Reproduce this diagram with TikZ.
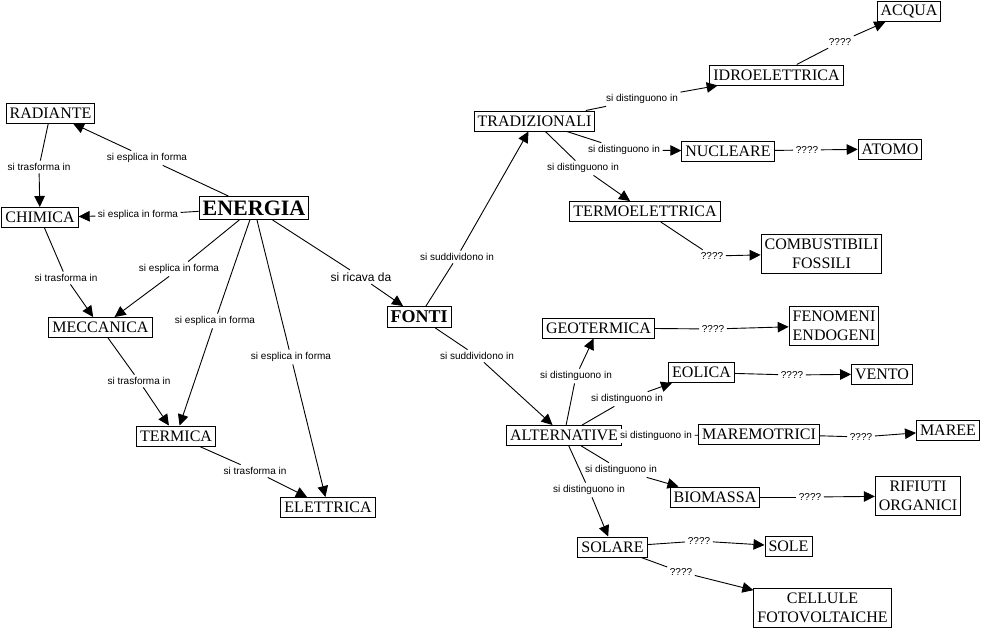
\documentclass[tikz,border=0pt]{standalone}
\usepackage{fontspec}
\setmainfont{Liberation Serif}
\setsansfont{Liberation Sans}
\usetikzlibrary{arrows.meta}
\begin{document}
\begin{tikzpicture}[x=1pt,y=-1pt,
 concept/.style={draw,line width=1pt,fill=white,inner xsep=3.5pt,inner ysep=1pt,minimum height=20pt,align=center,font=\fontsize{16}{17}\selectfont},
 twoline/.style={concept,font=\fontsize{16}{19}\selectfont,minimum height=39pt},
 bigconcept/.style={concept,font=\bfseries\fontsize{22}{24}\selectfont,minimum height=23pt},
 lbl/.style={fill=white,inner sep=2.5pt,font=\sffamily\fontsize{10}{11}\selectfont},
 link/.style={line width=0.9pt},
 linkarr/.style={line width=0.9pt,-{Triangle[length=11pt,width=10.5pt]}}]
\useasboundingbox (0,0) rectangle (982,630);
% concepts
\node[concept] (rad) at (50.5,113) {RADIANTE};
\node[concept] (chi) at (40,217.5) {CHIMICA};
\node[bigconcept] (ene) at (254,208) {ENERGIA};
\node[concept] (mec) at (100.5,327.5) {MECCANICA};
\node[concept] (ter) at (176,436) {TERMICA};
\node[concept] (ele) at (328,507.5) {ELETTRICA};
\node[concept,font=\bfseries\fontsize{18}{20}\selectfont,minimum height=21pt] (fon) at (419,317) {FONTI};
\node[concept] (tra) at (534.5,121) {TRADIZIONALI};
\node[concept] (tel) at (645,211.5) {TERMOELETTRICA};
\node[concept] (idr) at (776.5,75) {IDROELETTRICA};
\node[concept] (acq) at (909,11.5) {ACQUA};
\node[concept] (nuc) at (728,151) {NUCLEARE};
\node[concept] (ato) at (890,149) {ATOMO};
\node[twoline] (com) at (821.5,253.5) {COMBUSTIBILI\\FOSSILI};
\node[concept] (geo) at (598.5,328) {GEOTERMICA};
\node[twoline] (fen) at (834,325.5) {FENOMENI\\ENDOGENI};
\node[concept] (eol) at (701.5,372.5) {EOLICA};
\node[concept] (ven) at (882,374) {VENTO};
\node[concept] (alt) at (564,435.5) {ALTERNATIVE};
\node[concept] (mar) at (759,434) {MAREMOTRICI};
\node[concept] (mae) at (948,430.5) {MAREE};
\node[concept] (bio) at (715,497) {BIOMASSA};
\node[twoline] (rif) at (918,496) {RIFIUTI\\ORGANICI};
\node[concept] (sol) at (612.5,547) {SOLARE};
\node[concept] (sle) at (788.5,546.5) {SOLE};
\node[twoline] (cel) at (822.5,607.5) {CELLULE\\FOTOVOLTAICHE};
% linking phrases
\node[lbl] (l1) at (147,158) {si esplica in forma};
\node[lbl] (l2) at (39,167) {si trasforma in};
\node[lbl] (l3) at (138,215) {si esplica in forma};
\node[lbl] (l4) at (66,278) {si trasforma in};
\node[lbl] (l5) at (179,269) {si esplica in forma};
\node[lbl] (l6) at (215,321) {si esplica in forma};
\node[lbl] (l7) at (291,357) {si esplica in forma};
\node[lbl] (l8) at (139,381) {si trasforma in};
\node[lbl] (l9) at (255,471) {si trasforma in};
\node[lbl,font=\sffamily\fontsize{12}{13}\selectfont] (l10) at (361,277) {si ricava da};
\node[lbl] (l11) at (457,257) {si suddividono in};
\node[lbl] (l12) at (477,356) {si suddividono in};
\node[lbl] (l13) at (642,99) {si distinguono in};
\node[lbl] (l14) at (624,150) {si distinguono in};
\node[lbl] (l15) at (583,168) {si distinguono in};
\node[lbl] (q1) at (840,42) {????};
\node[lbl] (q2) at (807,150) {????};
\node[lbl] (q3) at (712,256) {????};
\node[lbl] (q4) at (713,329) {????};
\node[lbl] (l16) at (576,376) {si distinguono in};
\node[lbl] (l17) at (627,399) {si distinguono in};
\node[lbl] (q5) at (792,375) {????};
\node[lbl] (l18) at (656,436) {si distinguono in};
\node[lbl] (q6) at (861,437) {????};
\node[lbl] (l19) at (621,470) {si distinguono in};
\node[lbl] (l20) at (589,490) {si distinguono in};
\node[lbl] (q7) at (810,497) {????};
\node[lbl] (q8) at (699,541) {????};
\node[lbl] (q9) at (681,572) {????};
% connectors
\draw[link] (ene) -- (l1); \draw[linkarr] (l1) -- (rad);
\draw[link] (rad) -- (l2); \draw[linkarr] (l2) -- (chi);
\draw[link] (ene) -- (l3); \draw[linkarr] (l3) -- (chi);
\draw[link] (chi) -- (l4); \draw[linkarr] (l4) -- (mec);
\draw[link] (ene) -- (l5); \draw[linkarr] (l5) -- (mec);
\draw[link] (ene) -- (l6); \draw[linkarr] (l6) -- (ter);
\draw[link] (ene) -- (l7); \draw[linkarr] (l7) -- (ele);
\draw[link] (mec) -- (l8); \draw[linkarr] (l8) -- (ter);
\draw[link] (ter) -- (l9); \draw[linkarr] (l9) -- (ele);
\draw[link] (ene) -- (l10); \draw[linkarr] (l10) -- (fon);
\draw[link] (fon) -- (l11); \draw[linkarr] (l11) -- (tra);
\draw[link] (fon) -- (l12); \draw[linkarr] (l12) -- (alt);
\draw[link] (tra) -- (l13); \draw[linkarr] (l13) -- (idr);
\draw[link] (tra) -- (l14); \draw[linkarr] (l14) -- (nuc);
\draw[link] (tra) -- (l15); \draw[linkarr] (l15) -- (tel);
\draw[link] (idr) -- (q1); \draw[linkarr] (q1) -- (acq);
\draw[link] (nuc) -- (q2); \draw[linkarr] (q2) -- (ato);
\draw[link] (tel) -- (q3); \draw[linkarr] (q3) -- (com);
\draw[link] (geo) -- (q4); \draw[linkarr] (q4) -- (fen);
\draw[link] (alt) -- (l16); \draw[linkarr] (l16) -- (geo);
\draw[link] (alt) -- (l17); \draw[linkarr] (l17) -- (eol);
\draw[link] (eol) -- (q5); \draw[linkarr] (q5) -- (ven);
\draw[link] (l18) -- (mar);
\draw[link] (mar) -- (q6); \draw[linkarr] (q6) -- (mae);
\draw[link] (alt) -- (l19); \draw[linkarr] (l19) -- (bio);
\draw[link] (alt) -- (l20); \draw[linkarr] (l20) -- (sol);
\draw[link] (bio) -- (q7); \draw[linkarr] (q7) -- (rif);
\draw[link] (sol) -- (q8); \draw[linkarr] (q8) -- (sle);
\draw[link] (sol) -- (q9); \draw[linkarr] (q9) -- (cel);
\end{tikzpicture}
\end{document}
